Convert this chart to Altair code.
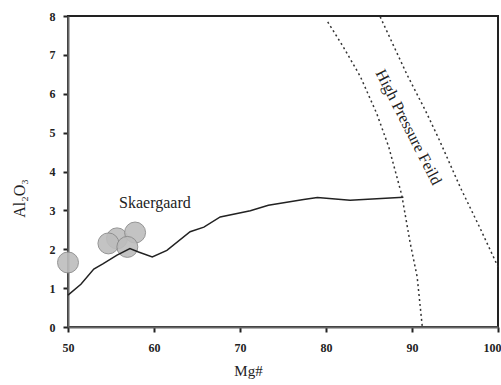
import altair as alt
import pandas as pd

# Skaergaard trend (Mg# vs Al2O3)
trend_mg = [50.0, 51.5, 53.0, 54.1, 55.7, 57.2, 58.2, 59.8, 61.5, 64.2, 65.8,
            67.7, 71.2, 73.3, 77.4, 79.0, 82.8, 89.0]
trend_al = [0.82, 1.10, 1.49, 1.63, 1.85, 2.02, 1.93, 1.80, 1.97, 2.45, 2.57,
            2.83, 2.99, 3.13, 3.28, 3.33, 3.26, 3.34]

# Sample points
pt_mg = [55.7, 57.8, 54.7, 50.0, 56.9]
pt_al = [2.28, 2.43, 2.15, 1.66, 2.06]

# High-pressure field boundaries
left_mg = [80.2, 82.0, 84.0, 85.9, 87.3, 88.8, 89.8, 90.6, 91.2]
left_al = [7.85, 7.21, 6.44, 5.49, 4.63, 3.40, 2.15, 1.29, 0.0]
right_mg = [86.3, 89.4, 91.6, 93.2, 95.6, 97.9, 100.0]
right_al = [7.98, 6.50, 5.55, 4.80, 3.60, 2.55, 1.55]

SERIF = "Liberation Serif, DejaVu Serif, serif"

x_scale = alt.Scale(domain=[50, 100], nice=False, zero=False)
y_scale = alt.Scale(domain=[0, 8], nice=False)

x_axis = alt.Axis(values=[50, 60, 70, 80, 90, 100], title="Mg#", grid=False,
                  labelFont=SERIF, labelFontWeight="bold", labelFontSize=12,
                  labelColor="#222", titleFont=SERIF, titleFontWeight="normal",
                  titleFontSize=15, titleColor="#222", titlePadding=10,
                  titleX=180, tickSize=5, tickWidth=2, tickColor="#222",
                  labelPadding=10, domainColor="#666", domainWidth=2,
                  labelFlush=False, labelOverlap=False,
                  labelAlign={"condition": {"test": "datum.value == 100", "value": "right"},
                              "value": "center"},
                  labelOffset={"condition": {"test": "datum.value == 100", "value": 3},
                               "value": 0})
y_axis = alt.Axis(values=[0, 1, 2, 3, 4, 5, 6, 7, 8], title="Al₂O₃", grid=False,
                  labelFont=SERIF, labelFontWeight="bold", labelFontSize=12,
                  labelColor="#222", titleFont=SERIF, titleFontWeight="normal",
                  titleFontSize=16, titleColor="#222", titlePadding=22,
                  titleY=182, tickSize=5, tickWidth=2, tickColor="#222",
                  labelPadding=8, domainColor="#666", domainWidth=2,
                  labelOverlap=False)

X = alt.X("mg:Q", scale=x_scale, axis=x_axis)
Y = alt.Y("al:Q", scale=y_scale, axis=y_axis)

trend = pd.DataFrame({"mg": trend_mg, "al": trend_al, "i": range(len(trend_mg))})
pts = pd.DataFrame({"mg": pt_mg, "al": pt_al, "i": range(len(pt_mg))})
left = pd.DataFrame({"mg": left_mg, "al": left_al, "i": range(len(left_mg))})
right = pd.DataFrame({"mg": right_mg, "al": right_al, "i": range(len(right_mg))})

circles = alt.Chart(pts).mark_point(
    shape="circle", filled=True, size=440, color="#bdbdbd", opacity=0.9,
    stroke="#8a8a8a", strokeWidth=1, clip=False
).encode(x=X, y=Y, order="i:O")

trend_line = alt.Chart(trend).mark_line(color="#222", strokeWidth=1.5).encode(
    x=X, y=Y, order="i:O")

left_line = alt.Chart(left).mark_line(
    color="#333", strokeWidth=1.5, strokeDash=[2, 3]).encode(
    x=X, y=Y, order="i:O")
right_line = alt.Chart(right).mark_line(
    color="#333", strokeWidth=1.5, strokeDash=[2, 3]).encode(
    x=X, y=Y, order="i:O")

labels = pd.DataFrame({"mg": [60.1], "al": [3.18], "t": ["Skaergaard"]})
skaer = alt.Chart(labels).mark_text(
    font=SERIF, fontSize=16, color="#222").encode(x=X, y=Y, text="t:N")

hp = pd.DataFrame({"mg": [89.6], "al": [5.14], "t": ["High Pressure Feild"]})
hp_text = alt.Chart(hp).mark_text(
    font=SERIF, fontSize=16, color="#222", angle=63).encode(
    x=X, y=Y, text="t:N")

chart = alt.layer(circles, trend_line, left_line, right_line, skaer, hp_text).properties(
    width=430, height=311,
    autosize=alt.AutoSizeParams(type="none"),
    padding={"left": 68, "top": 16, "right": 3, "bottom": 58},
    background="white",
).configure_view(stroke="#222", strokeWidth=2)

chart.save("out.html", embed_options={"renderer": "svg", "actions": False})
